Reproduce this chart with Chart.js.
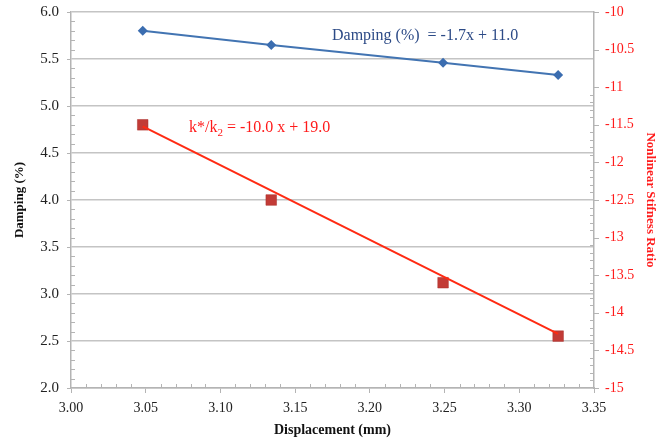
<!DOCTYPE html>
<html>
<head>
<meta charset="utf-8">
<script src="https://cdn.jsdelivr.net/npm/chart.js@4"></script>
<style>
  html, body { margin: 0; padding: 0; background: #fff; }
  #wrap { width: 664px; height: 439px; }
</style>
</head>
<body>
<div id="wrap"><canvas id="myChart" width="664" height="439"></canvas></div>
<script>
// values
var displacement = [3.048, 3.134, 3.249, 3.326];
var damping = [5.80, 5.65, 5.46, 5.33];
var stiffnessRatio = [-11.50, -12.50, -13.60, -14.31];
// fitted line for the stiffness ratio (end points)
var trendX = [3.048, 3.326];
var trendY = [-11.52, -14.28];

function pairs(xs, ys) {
    return xs.map(function (x, i) { return { x: x, y: ys[i] }; });
}

var serif = "'Liberation Serif', 'DejaVu Serif', serif";

// major tick marks on the y axes + minor tick marks on all three axes
var minorTicks = {
    id: 'minorTicks',
    afterDraw: function (chart) {
        var ctx = chart.ctx;
        var a = chart.chartArea;
        var sx = chart.scales.x, sy = chart.scales.y, sy2 = chart.scales.y2;
        ctx.save();
        ctx.strokeStyle = '#b4b4b4';
        ctx.lineWidth = 1;
        ctx.beginPath();
        var i, p;
        sy.ticks.forEach(function (t) {
            p = Math.round(sy.getPixelForValue(t.value)) + 0.5;
            ctx.moveTo(a.left - 4, p); ctx.lineTo(a.left, p);
        });
        sy2.ticks.forEach(function (t) {
            p = Math.round(sy2.getPixelForValue(t.value)) + 0.5;
            ctx.moveTo(a.right, p); ctx.lineTo(a.right + 5, p);
        });
        for (i = 0; i <= 40; i++) {
            if (i % 5 === 0) continue;
            p = Math.round(sy.getPixelForValue(2 + i * 0.1)) + 0.5;
            ctx.moveTo(a.left, p); ctx.lineTo(a.left + 4, p);
            p = Math.round(sy2.getPixelForValue(-15 + i * 0.1)) + 0.5;
            ctx.moveTo(a.right, p); ctx.lineTo(a.right - 4, p);
        }
        for (i = 0; i <= 35; i++) {
            if (i % 5 === 0) continue;
            p = Math.round(sx.getPixelForValue(3 + i * 0.01)) + 0.5;
            ctx.moveTo(p, a.bottom); ctx.lineTo(p, a.bottom - 4);
        }
        ctx.stroke();
        ctx.restore();
    }
};

// the two equation labels
var equations = {
    id: 'equations',
    afterDatasetsDraw: function (chart) {
        var ctx = chart.ctx;
        ctx.save();
        ctx.textBaseline = 'alphabetic';
        ctx.textAlign = 'left';
        ctx.font = '16px ' + serif;
        ctx.fillStyle = '#2c4a86';
        ctx.fillText('Damping (%)  = -1.7x + 11.0', 332, 40);

        ctx.fillStyle = '#ff1a1a';
        var x = 189, y = 132;
        ctx.fillText('k*/k', x, y);
        x += ctx.measureText('k*/k').width;
        ctx.font = '11px ' + serif;
        ctx.fillText('2', x, y + 4);
        x += ctx.measureText('2').width;
        ctx.font = '16px ' + serif;
        ctx.fillText(' = -10.0 x + 19.0', x, y);
        ctx.restore();
    }
};

var ctx = document.getElementById('myChart').getContext('2d');

var myChart = new Chart(ctx, {
    type: 'scatter',
    data: {
        datasets: [{
            label: 'Damping (%)',
            data: pairs(displacement, damping),
            yAxisID: 'y',
            showLine: true,
            borderColor: '#4274b2',
            borderWidth: 2,
            backgroundColor: '#3b6db0',
            pointStyle: 'rectRot',
            pointRadius: 5,
            pointBorderWidth: 0
        },
        {
            label: 'Fit',
            data: pairs(trendX, trendY),
            yAxisID: 'y2',
            showLine: true,
            borderColor: '#ff2a12',
            borderWidth: 2,
            pointRadius: 0
        },
        {
            label: 'Nonlinear Stifness Ratio',
            data: pairs(displacement, stiffnessRatio),
            yAxisID: 'y2',
            showLine: false,
            backgroundColor: '#c23b36',
            borderColor: '#a8302c',
            pointStyle: 'rect',
            pointRadius: 7.5,
            pointBorderWidth: 0.5
        }]
    },
    options: {
        responsive: false,
        animation: false,
        layout: { padding: { top: 12, left: 0, right: 0, bottom: 0 } },
        plugins: {
            legend: { display: false },
            tooltip: { enabled: false }
        },
        scales: {
            x: {
                type: 'linear',
                min: 3.0,
                max: 3.35,
                afterFit: function (scale) { scale.height = 51; },
                grid: { drawOnChartArea: false, drawTicks: true, tickLength: 5, color: '#b4b4b4' },
                border: { color: '#b4b4b4', width: 1.5 },
                ticks: {
                    stepSize: 0.05,
                    padding: 7,
                    color: '#222',
                    font: { family: serif, size: 14 },
                    callback: function (v) { return Number(v).toFixed(2); }
                },
                title: {
                    display: true,
                    text: 'Displacement (mm)',
                    color: '#111',
                    font: { family: serif, size: 14, weight: 'bold' },
                    padding: { top: 4, bottom: 0 }
                }
            },
            y: {
                position: 'left',
                min: 2.0,
                max: 6.0,
                afterFit: function (scale) { scale.width = 71; },
                grid: { color: '#c4c4c4', lineWidth: 1.5, drawTicks: true, tickLength: 9, tickColor: 'rgba(0,0,0,0)' },
                border: { color: '#b4b4b4', width: 1.5 },
                ticks: {
                    stepSize: 0.5,
                    padding: 3,
                    color: '#222',
                    font: { family: serif, size: 15 },
                    callback: function (v) { return Number(v).toFixed(1); }
                },
                title: {
                    display: true,
                    text: 'Damping (%)',
                    color: '#111',
                    font: { family: serif, size: 13, weight: 'bold' },
                    padding: { top: 12, bottom: 4 }
                }
            },
            y2: {
                position: 'right',
                min: -15,
                max: -10,
                afterFit: function (scale) { scale.width = 70; },
                grid: { drawOnChartArea: false, drawTicks: true, tickLength: 10, tickColor: 'rgba(0,0,0,0)' },
                border: { color: '#b4b4b4', width: 1.5 },
                ticks: {
                    stepSize: 0.5,
                    padding: 1,
                    color: '#ff1a1a',
                    font: { family: serif, size: 14 },
                    callback: function (v) { return String(Math.round(v * 10) / 10); }
                },
                title: {
                    display: true,
                    text: 'Nonlinear Stifness Ratio',
                    color: '#ff1a1a',
                    font: { family: serif, size: 13, weight: 'bold' },
                    padding: { top: 6, bottom: 0 }
                }
            }
        }
    },
    plugins: [minorTicks, equations]
});
</script>
</body>
</html>
